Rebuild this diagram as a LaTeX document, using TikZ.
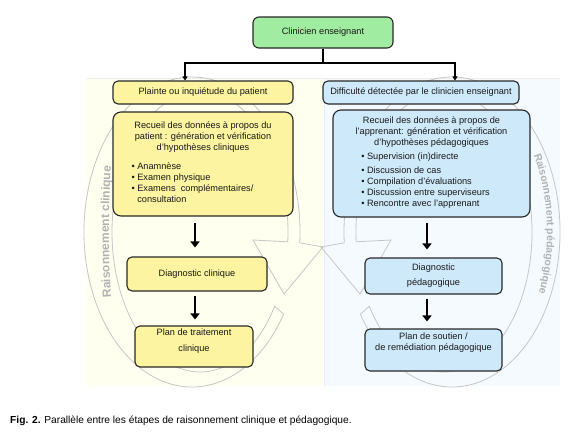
\documentclass[tikz,border=0pt]{standalone}
\usepackage{fontspec}
\setmainfont{Liberation Sans}
\usetikzlibrary{arrows.meta,calc,decorations.text}
\definecolor{boxgreen}{RGB}{160,236,160}
\definecolor{boxyellow}{RGB}{252,244,160}
\definecolor{boxblue}{RGB}{206,234,250}
\definecolor{panelY}{RGB}{255,255,240}
\definecolor{panelB}{RGB}{245,250,255}
\definecolor{wmline}{RGB}{198,198,198}
\definecolor{wmtext}{RGB}{178,178,178}
\definecolor{edge}{RGB}{40,40,40}
\begin{document}
\begin{tikzpicture}[x=1pt,y=-1pt,
  boxbase/.style={draw=edge, line width=1.1pt, rounded corners=5pt, align=center, inner sep=2pt,
    font=\fontsize{9.2}{11}\selectfont, text=black!90},
  gbox/.style={boxbase, fill=boxgreen},
  ybox/.style={boxbase, fill=boxyellow},
  bbox/.style={boxbase, fill=boxblue},
  wm/.style={draw=wmline, line width=0.8pt},
  wmtxt/.style 2 args={decorate, decoration={text along path, text align=center,
    text={|\fontsize{#1}{12}\selectfont\bfseries\color{wmtext}|#2}}},
  conn/.style={draw=black, line width=2pt},
  bigarrow/.style={draw=black, line width=2.6pt, -{Triangle[width=9pt,length=6pt]}}
]
\useasboundingbox[fill=white] (0,0) rectangle (570,440);

% background panels
\fill[panelY] (86,78) rectangle (323,386);
\fill[panelB] (325,78) rectangle (560,386);
\draw[black!7, line width=0.6pt] (86,78) -- (560,78);
\draw[blue!8, line width=0.6pt] (324,78) -- (324,386);

% watermark rings
\coordinate (lo) at (192,232);
\coordinate (li) at (200,232);
\coordinate (ro) at (452,232);
\coordinate (ri) at (444,232);
\draw[wm] ($(lo)+(32:108 and 155)$) arc[start angle=32,end angle=364,x radius=108,y radius=155]
  -- (323,247) -- (284,294) -- (253,240)
  -- ($(li)+(364:88 and 140)$) arc[start angle=364,end angle=32,x radius=88,y radius=140] -- cycle;
\draw[wm] ($(ro)+(148:108 and 155)$) arc[start angle=148,end angle=-184,x radius=108,y radius=155]
  -- (321,247) -- (360,294) -- (391,240)
  -- ($(ri)+(-184:88 and 140)$) arc[start angle=-184,end angle=148,x radius=88,y radius=140] -- cycle;
\path[wmtxt={12}{Raisonnement clinique}] ($(lo)+(155:83 and 300)$) arc[start angle=155,end angle=205,x radius=83,y radius=300];
\path[wmtxt={10.5}{Raisonnement pédagogique}] ($(ro)+(-60:95 and 152)$) arc[start angle=-60,end angle=52,x radius=95,y radius=152];

% boxes
\node[gbox, minimum width=140pt, minimum height=31pt, rounded corners=6pt] (top) at (323,32.5) {Clinicien enseignant};
\node[ybox, minimum width=180pt, minimum height=23pt] (plainte) at (203,92.5) {Plainte ou inquiétude du patient};
\node[bbox, minimum width=196pt, minimum height=23pt] (diff) at (421,92.5) {Difficulté détectée par le clinicien enseignant};

\node[ybox, minimum width=180pt, minimum height=104pt, rounded corners=8pt] (recA) at (203,164)
 {Recueil des données à propos du\\patient : génération et vérification\\d'hypothèses cliniques\\[8pt]
  \begin{tabular}[t]{@{}l@{}}• Anamnèse\\• Examen physique\\• Examens\ \ complémentaires/\\\phantom{• }consultation\end{tabular}\hspace*{21pt}};
\node[bbox, minimum width=197pt, minimum height=107pt, rounded corners=8pt] (recB) at (431.5,163.5)
 {Recueil des données à propos de\\l'apprenant: génération et vérification\\d'hypothèses pédagogiques\\[3pt]
  \begin{tabular}[t]{@{}l@{}}• Supervision (in)directe\\[3pt]• Discussion de cas\\• Compilation d'évaluations\\• Discussion entre superviseurs\\• Rencontre avec l'apprenant\end{tabular}\hspace*{12pt}};

\node[ybox, minimum width=140pt, minimum height=34pt] (diagA) at (197,274) {Diagnostic clinique};
\node[ybox, minimum width=118pt, minimum height=41pt] (planA) at (194,346.5) {Plan de traitement\\[5pt]clinique\\[2pt]};
\node[bbox, minimum width=137pt, minimum height=36pt] (diagB) at (433.5,276) {Diagnostic\\[4pt]pédagogique};
\node[bbox, minimum width=137pt, minimum height=42pt] (planB) at (433.5,350) {Plan de soutien /\\de remédiation pédagogique\\[6pt]};

% connectors
\coordinate (jM) at (323,63);
\coordinate (jL) at (185,63);
\coordinate (jR) at (455,63);
\draw[conn, line width=2.6pt] (top.south) -- (jM);
\draw[conn, line cap=rect] (jL) -- (jR);
\draw[conn, -{Triangle[width=5pt,length=4pt]}] (jL) -- (jL |- plainte.north);
\draw[conn, -{Triangle[width=5pt,length=4pt]}] (jR) -- (jR |- diff.north);

\draw[bigarrow] ([xshift=-8pt,yshift=-6pt]recA.south) -- ([xshift=-2pt,yshift=9pt]diagA.north);
\draw[bigarrow] ([xshift=-2pt,yshift=-4pt]diagA.south) -- ([xshift=1pt,yshift=6pt]planA.north);
\draw[bigarrow] ([xshift=-4.5pt,yshift=-5pt]recB.south) -- ([xshift=-6.5pt,yshift=8pt]diagB.north);
\draw[bigarrow] ([xshift=-6.5pt,yshift=-4pt]diagB.south) -- ([xshift=-6.5pt,yshift=7pt]planB.north);

% caption
\node[anchor=base west, inner sep=0pt, font=\fontsize{10.2}{12}\selectfont] (cap) at (10,423)
 {\textbf{Fig. 2.} Parallèle entre les étapes de raisonnement clinique et pédagogique.};
\end{tikzpicture}
\end{document}
